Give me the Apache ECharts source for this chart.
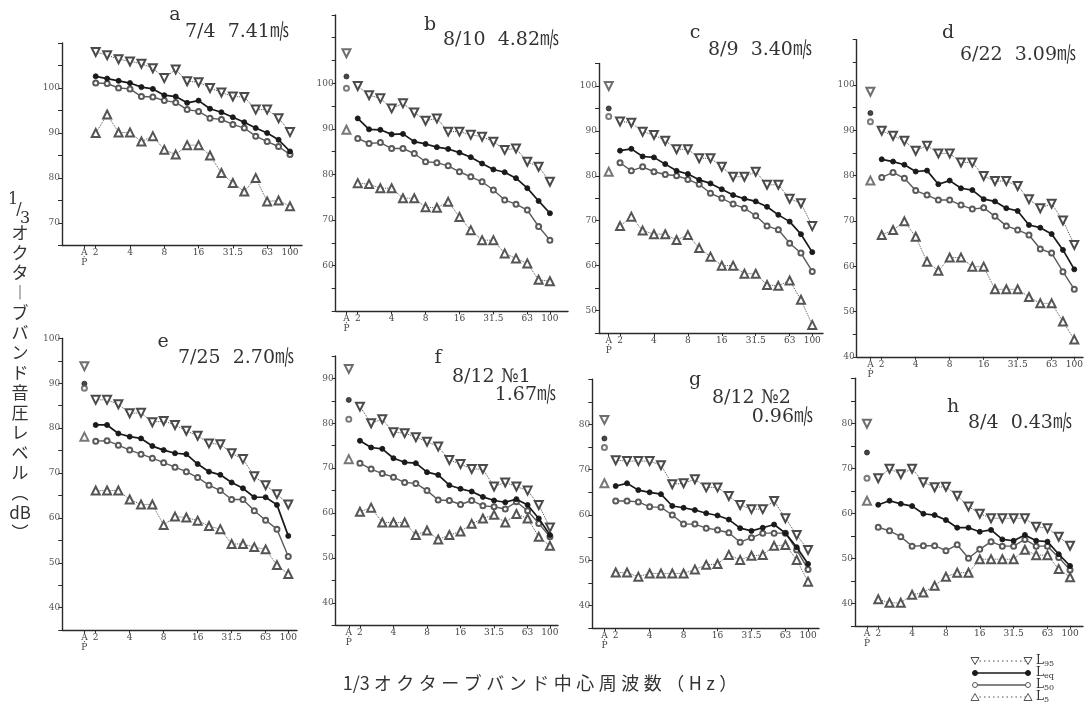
<!DOCTYPE html>
<html>
<head>
<meta charset="utf-8">
<script src="https://cdn.jsdelivr.net/npm/echarts@6/dist/echarts.min.js"></script>
<style>
html,body{margin:0;padding:0;background:#fff;}
#main{width:1085px;height:706px;}
</style>
</head>
<body>
<div id="main"></div>
<script>
// 1/3オクターブバンド中心周波数
var bands = ['2','2.5','3.15','4','5','6.3','8','10','12.5','16','20','25','31.5','40','50','63','80','100'];
var tickIdx = [0,1,4,7,10,13,16,18];

// a 7/4
var a_L95 = [108.0,107.3,106.4,105.9,105.4,104.4,102.2,104.1,101.5,101.3,100.0,99.0,98.1,98.0,95.2,95.2,93.3,90.2];
var a_Leq = [102.6,102.1,101.6,101.1,100.2,99.8,98.4,98.1,96.7,97.2,95.4,94.6,93.5,92.4,91.1,90.0,88.5,85.9];
var a_L50 = [101.1,101.0,100.0,99.8,98.1,98.0,97.2,96.8,95.2,94.8,93.3,93.0,91.9,91.1,89.3,88.1,87.0,85.2];
var a_L5  = [90.0,94.1,90.1,90.1,88.1,89.3,86.3,85.2,87.3,87.3,85.0,81.1,78.9,77.0,80.0,74.8,75.0,73.7];
// b 8/10
var b_AP  = [106.6,101.5,98.9,89.8];
var b_L95 = [99.4,97.4,96.7,94.5,95.6,93.6,91.8,92.3,89.4,89.4,88.7,88.3,87.2,85.4,85.7,82.8,81.7,78.4];
var b_Leq = [92.3,89.9,89.8,88.8,88.9,87.2,86.7,86.0,85.6,84.8,83.8,82.4,81.1,80.5,79.2,77.0,74.2,71.5];
var b_L50 = [87.9,86.8,87.0,85.7,85.7,84.6,82.8,82.6,81.9,80.6,79.5,78.4,76.6,74.4,73.5,72.2,68.6,65.6];
var b_L5  = [78.1,77.9,77.0,77.0,74.8,74.8,72.8,72.7,74.0,70.7,67.8,65.6,65.6,62.7,61.6,60.5,56.9,56.6];
// c 8/9
var c_AP  = [100.0,95.0,93.2,80.9];
var c_L95 = [92.1,91.8,89.8,89.1,87.8,85.9,85.9,83.9,83.9,82.0,79.8,79.8,80.9,78.0,78.0,74.9,73.9,68.8];
var c_Leq = [85.6,86.0,84.3,84.1,82.6,81.1,80.4,79.1,78.3,77.0,75.7,74.9,74.3,73.1,71.3,69.8,67.0,63.0];
var c_L50 = [82.9,81.1,82.0,80.9,80.3,80.0,79.2,78.1,76.1,75.0,73.7,72.8,71.1,68.8,68.0,65.0,62.8,58.7];
var c_L5  = [68.8,70.9,67.8,67.0,67.0,65.7,66.8,63.9,62.0,60.0,60.0,58.2,58.2,55.7,55.5,56.7,52.4,46.8];
// d 6/22
var d_AP  = [98.5,93.8,91.9,78.9];
var d_L95 = [89.9,88.8,87.7,85.5,86.6,84.9,84.9,82.9,82.9,79.9,78.8,78.8,77.7,74.8,72.8,73.8,70.1,64.7];
var d_Leq = [83.6,83.1,82.4,80.9,81.1,78.1,78.9,77.2,76.8,74.8,74.3,72.8,72.2,69.1,68.5,67.1,63.6,59.3];
var d_L50 = [79.6,80.7,79.4,76.7,75.7,74.6,74.6,73.5,72.6,72.9,71.0,68.9,68.0,66.9,63.8,62.9,58.8,54.9];
var d_L5  = [66.9,68.0,69.9,66.5,61.0,59.0,61.9,61.9,59.9,59.9,54.9,54.9,54.9,53.2,51.8,51.8,47.8,43.8];
// e 7/25
var e_AP  = [93.8,89.9,88.9,78.1];
var e_L95 = [86.3,86.3,85.3,83.3,83.4,81.3,81.6,80.7,79.4,78.3,76.6,76.4,74.4,73.1,69.3,67.3,65.3,63.0];
var e_Leq = [80.7,80.7,78.8,78.1,77.7,76.0,75.1,74.4,74.2,72.0,70.3,69.6,67.9,66.6,64.6,64.6,62.9,56.0];
var e_L50 = [77.1,77.2,76.2,75.1,74.2,73.3,72.3,71.3,70.3,69.0,67.3,66.1,64.1,64.1,61.6,59.5,57.5,51.4];
var e_L5  = [66.1,66.1,66.1,64.1,63.0,63.0,58.4,60.3,60.1,59.4,58.2,57.5,54.2,54.2,53.5,53.0,49.5,47.5];
// f 8/12 No1
var f_AP  = [92.1,85.2,80.9,72.0];
var f_L95 = [83.7,80.0,80.9,78.0,77.8,76.9,75.9,74.8,71.8,70.9,69.8,69.8,65.9,66.8,65.9,65.0,61.8,56.8];
var f_Leq = [76.1,74.6,74.3,72.2,71.3,71.1,69.1,68.5,66.2,65.4,64.8,63.6,62.8,62.4,63.1,61.8,58.8,55.1];
var f_L50 = [71.1,69.8,68.8,68.0,66.8,66.6,65.0,62.9,62.8,61.9,62.8,61.6,61.4,60.9,62.5,60.5,57.7,54.7];
var f_L5  = [60.3,61.2,57.9,57.9,57.9,55.1,56.1,54.1,55.1,55.9,57.6,58.8,59.6,57.9,59.8,58.8,54.7,52.7];
// g 8/12 No2
var g_AP  = [81.0,76.9,74.9,67.0];
var g_L95 = [72.1,71.9,71.9,71.9,71.0,66.8,67.0,67.9,66.1,66.1,64.2,62.2,61.3,61.3,63.1,59.3,55.6,52.3];
var g_Leq = [66.4,67.0,65.5,65.0,64.6,62.0,61.6,61.1,60.4,59.9,59.0,57.1,56.5,57.2,57.9,56.0,52.9,49.2];
var g_L50 = [63.1,63.1,62.9,61.8,61.7,60.0,58.0,58.0,57.1,56.7,56.1,54.0,55.0,56.0,56.0,56.0,52.3,48.0];
var g_L5  = [47.3,47.3,46.4,47.1,47.1,47.1,47.1,48.0,49.0,49.2,51.2,50.1,51.0,51.2,53.2,53.4,50.1,45.3];
// h 8/4
var h_AP  = [79.9,73.5,67.8,62.8];
var h_L95 = [67.8,69.9,68.7,69.9,66.9,65.8,65.9,63.9,61.5,59.9,58.9,58.9,58.9,58.9,57.0,56.7,54.8,52.8];
var h_Leq = [61.9,62.8,62.1,61.6,59.9,59.6,58.5,56.8,56.8,55.9,56.3,54.2,53.9,55.2,53.9,53.7,50.9,48.3];
var h_L50 = [56.9,56.1,54.8,52.7,52.8,52.8,51.7,53.0,50.0,52.0,53.7,52.7,52.7,54.2,52.7,52.7,50.2,47.4];
var h_L5  = [40.9,40.1,40.1,41.9,42.4,43.9,45.9,46.8,46.8,49.8,49.8,49.8,49.8,51.9,50.7,50.7,47.6,45.8];

var panels = [
	{ap:null, L95:a_L95, Leq:a_Leq, L50:a_L50, L5:a_L5},
	{ap:b_AP, L95:b_L95, Leq:b_Leq, L50:b_L50, L5:b_L5},
	{ap:c_AP, L95:c_L95, Leq:c_Leq, L50:c_L50, L5:c_L5},
	{ap:d_AP, L95:d_L95, Leq:d_Leq, L50:d_L50, L5:d_L5},
	{ap:e_AP, L95:e_L95, Leq:e_Leq, L50:e_L50, L5:e_L5},
	{ap:f_AP, L95:f_L95, Leq:f_Leq, L50:f_L50, L5:f_L5},
	{ap:g_AP, L95:g_L95, Leq:g_Leq, L50:g_L50, L5:g_L5},
	{ap:h_AP, L95:h_L95, Leq:h_Leq, L50:h_L50, L5:h_L5}
];

// grid placement of each small chart
var layout = [
	{left:62,    top:43,    width:240,   height:202.5, xMin:-1.95, xMax:19.05, yMin:65, yMax:110, labMin:70, labMax:100},
	{left:335.7, top:14.9,  width:232.3, height:296.4, xMin:-0.95, xMax:19.6,  yMin:50, yMax:115, labMin:60, labMax:100},
	{left:599,   top:63.5,  width:224,   height:269.5, xMin:-0.86, xMax:18.95, yMin:45, yMax:105, labMin:50, labMax:100},
	{left:856.7, top:39.7,  width:226.3, height:317.1, xMin:-1.21, xMax:18.77, yMin:40, yMax:110, labMin:40, labMax:100},
	{left:62.3,  top:338.3, width:234.7, height:291.9, xMin:-1.95, xMax:18.77, yMin:35, yMax:100, labMin:40, labMax:100},
	{left:335.7, top:355.9, width:222.3, height:269.4, xMin:-1.17, xMax:18.72, yMin:35, yMax:95,  labMin:40, labMax:90},
	{left:592.3, top:379.1, width:226.7, height:249.2, xMin:-1.07, xMax:18.97, yMin:35, yMax:90,  labMin:40, labMax:80},
	{left:855,   top:378.3, width:228,   height:247.5, xMin:-1.06, xMax:19.15, yMin:35, yMax:90,  labMin:40, labMax:80}
];

var STYLE = {
	L95:{symbol:'emptyTriangle', rotate:180, size:8, color:'#4a4a4a', type:'dotted', width:1},
	Leq:{symbol:'circle',        rotate:0,   size:5, color:'#1a1a1a', type:'solid',  width:1.7},
	L50:{symbol:'emptyCircle',   rotate:0,   size:5, color:'#5a5a5a', type:'solid',  width:1.4},
	L5: {symbol:'emptyTriangle', rotate:0,   size:8, color:'#555555', type:'dotted', width:1}
};
var KEYS = ['L95','Leq','L50','L5'];
var NUMFONT = '"DejaVu Serif", "Noto Sans CJK JP", serif';

var grids = [], xAxes = [], yAxes = [], series = [];

layout.forEach(function(g, i){
	grids.push({left:g.left, top:g.top, width:g.width, height:g.height, outerBoundsMode:'none', containLabel:false});
	xAxes.push({
		type:'value', gridIndex:i, min:g.xMin, max:g.xMax,
		axisLine:{show:true, onZero:false, lineStyle:{color:'#2a2a2a', width:1.4}},
		axisTick:{show:true, customValues:tickIdx, length:3, lineStyle:{color:'#2a2a2a'}},
		axisLabel:{
			customValues:tickIdx, fontSize:9, color:'#444', margin:5, lineHeight:5, fontFamily:NUMFONT,
			formatter:function(v){ return v === 0 ? 'A\n·\nP' : bands[v - 1]; }
		},
		splitLine:{show:false}
	});
	yAxes.push({
		type:'value', gridIndex:i, min:g.yMin, max:g.yMax, interval:5,
		axisLine:{show:true, onZero:false, lineStyle:{color:'#2a2a2a', width:1.4}},
		axisTick:{show:true, length:4, lineStyle:{color:'#2a2a2a'}},
		axisLabel:{
			fontSize:9, color:'#555', margin:2, fontFamily:NUMFONT,
			formatter:function(v){ return (v % 10 === 0 && v >= g.labMin && v <= g.labMax) ? String(v) : ''; }
		},
		splitLine:{show:false}
	});

	var p = panels[i];
	KEYS.forEach(function(k){
		var s = STYLE[k];
		series.push({
			type:'line', xAxisIndex:i, yAxisIndex:i, name:k,
			data:p[k].map(function(v, j){ return [j + 1, v]; }),
			symbol:s.symbol, symbolSize:s.size, symbolRotate:s.rotate,
			itemStyle:{color:s.color, borderColor:s.color, borderWidth:0.9},
			lineStyle:{color:s.color, width:s.width, type:s.type},
			z: k === 'Leq' ? 3 : 2
		});
	});
	if(p.ap){
		// A特性 / P 値: 線で結ばない単独の点
		series.push({
			type:'scatter', xAxisIndex:i, yAxisIndex:i, name:'AP', z:4,
			data:p.ap.map(function(v, j){
				var s = STYLE[KEYS[j]];
				return {value:[0, v], symbol:s.symbol, symbolSize:s.size, symbolRotate:s.rotate,
					itemStyle:{color:s.color, borderColor:s.color, borderWidth:0.9}};
			})
		});
	}
});

function txt(x, y, text, size, align){
	return {type:'text', x:x, y:y, z:10, style:{text:text, font:size + 'px ' + NUMFONT, fill:'#333', align:align || 'left', verticalAlign:'middle'}};
}

var graphics = [
	txt(175, 15, 'a', 19, 'center'),  txt(185, 32, '7/4  7.41㎧', 19),
	txt(430, 25, 'b', 19, 'center'),  txt(443, 40, '8/10  4.82㎧', 19),
	txt(695, 33, 'c', 19, 'center'),  txt(708, 50, '8/9  3.40㎧', 19),
	txt(948, 33, 'd', 19, 'center'),  txt(960, 55, '6/22  3.09㎧', 19),
	txt(163, 342, 'e', 19, 'center'), txt(178, 358, '7/25  2.70㎧', 19),
	txt(438, 358, 'f', 19, 'center'), txt(452, 377, '8/12 №1', 19), txt(556, 395, '1.67㎧', 19, 'right'),
	txt(695, 380, 'g', 19, 'center'), txt(712, 398, '8/12 №2', 19), txt(813, 417, '0.96㎧', 19, 'right'),
	txt(953, 407, 'h', 19, 'center'), txt(968, 423, '8/4  0.43㎧', 19)
];

// 縦軸名
graphics.push(txt(13, 200, '1', 16, 'center'));
graphics.push(txt(19, 210, '/', 16, 'center'));
graphics.push(txt(25, 219, '3', 16, 'center'));
graphics.push({type:'text', x:20, y:223, z:10, style:{
	text:['オ','ク','タ','︱','ブ','バ','ン','ド','音','圧','レ','ベ','ル','︵','dB','︶'].join('\n'),
	font:'17px "Noto Sans CJK JP", "DejaVu Serif"', fill:'#333', align:'center', verticalAlign:'top', lineHeight:20
}});
// 横軸名
graphics.push({type:'text', x:540, y:683, z:10, style:{
	text:'1/3 ' + 'オクターブバンド中心周波数（Hz）'.split('').join('\u2005'),
	font:'18px "Noto Sans CJK JP", "DejaVu Serif"', fill:'#333', align:'center', verticalAlign:'middle'
}});

// 凡例
var legendRows = [
	{k:'L95', y:661, sub:'95'},
	{k:'Leq', y:673, sub:'eq'},
	{k:'L50', y:685, sub:'50'},
	{k:'L5',  y:697, sub:'5'}
];
function legendSymbol(k, x, y){
	var s = STYLE[k];
	if(k === 'L95'){
		return {type:'polygon', z:10, shape:{points:[[x-4,y-3.5],[x+4,y-3.5],[x,y+3.5]]}, style:{fill:'#fff', stroke:s.color, lineWidth:1}};
	}
	if(k === 'L5'){
		return {type:'polygon', z:10, shape:{points:[[x-4,y+3.5],[x+4,y+3.5],[x,y-3.5]]}, style:{fill:'#fff', stroke:s.color, lineWidth:1}};
	}
	return {type:'circle', z:10, shape:{cx:x, cy:y, r:2.5}, style:{fill: k === 'Leq' ? s.color : '#fff', stroke:s.color, lineWidth:1}};
}
legendRows.forEach(function(r){
	var s = STYLE[r.k];
	graphics.push({type:'line', z:9, shape:{x1:975, y1:r.y, x2:1028, y2:r.y},
		style:{stroke:s.color, lineWidth:s.width, lineDash: s.type === 'dotted' ? [1.5, 3] : null}});
	graphics.push(legendSymbol(r.k, 975, r.y));
	graphics.push(legendSymbol(r.k, 1028, r.y));
	graphics.push({type:'text', x:1036, y:r.y, z:10, style:{
		text:'{l|L}{s|' + r.sub + '}', align:'left', verticalAlign:'middle', fill:'#333',
		rich:{l:{fontSize:12, fontFamily:NUMFONT, fill:'#333'}, s:{fontSize:8, fontFamily:NUMFONT, fill:'#333', padding:[5,0,0,0]}}
	}});
});

var myChart = echarts.init(document.getElementById('main'), null, {renderer:'canvas'});
myChart.setOption({
	backgroundColor:'#fff',
	animation:false,
	grid:grids,
	xAxis:xAxes,
	yAxis:yAxes,
	series:series,
	graphic:graphics
});
</script>
</body>
</html>
